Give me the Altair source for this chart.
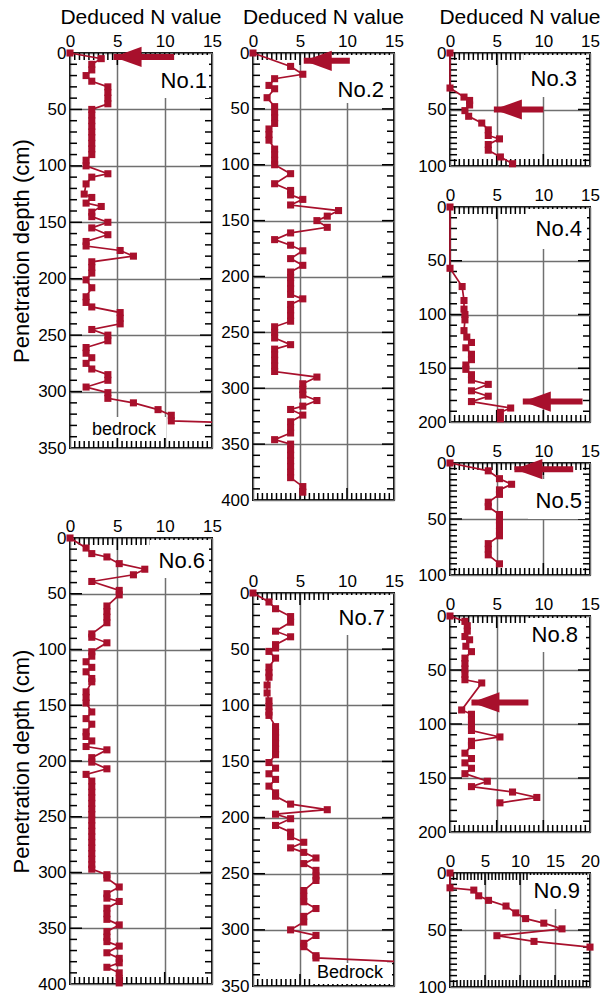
import altair as alt
import pandas as pd

FONT = "Liberation Sans"
RED = "#a8102c"
GRID = "#707070"
HEAD = "M0,0L2,-0.72L2,0.72Z"

# ---------------- data (depth in cm, deduced N value) ----------------
n1_depth = [0, 5, 10, 15, 20, 25, 30, 35, 40, 45,
            50, 55, 60, 65, 70, 75, 80, 85, 90, 95,
            100, 107, 110, 116, 125, 128, 133, 136, 141, 145,
            150, 155, 161, 167, 171, 175, 180, 185, 190, 195,
            201, 208, 216, 221, 225, 230, 235, 240, 245, 250,
            255, 261, 266, 270, 275, 280, 285, 290, 296, 301,
            306, 310, 316, 321, 326]
n1_value = [0, 3.3, 2.3, 2.3, 1.7, 2.3, 4, 4, 4, 4,
            2.3, 2.3, 2.3, 2.3, 2.3, 2.3, 2.3, 2.3, 2.3, 1.7,
            1.7, 4, 2.3, 1.7, 1.5, 2.3, 1.7, 3.3, 2.3, 2.3,
            4, 2.3, 4, 1.7, 1.7, 5.3, 6.7, 2.3, 2.3, 2.3,
            1.7, 2.3, 1.7, 1.7, 2.3, 5.3, 5.3, 5.3, 2.3, 4,
            4, 1.7, 1.7, 2.3, 1.7, 2.3, 4, 4, 1.7, 4,
            4, 6.7, 9.3, 10.7, 10.7]
n1_tail = [15, 327]

n2_depth = [0, 12, 19, 23, 29, 32, 40, 48, 53, 58,
            63, 68, 73, 78, 86, 91, 96, 100, 108, 117,
            123, 127, 131, 136, 141, 146, 150, 156, 161, 167,
            172, 177, 184, 190, 196, 201, 206, 211, 216, 220,
            225, 230, 235, 240, 245, 250, 255, 261, 265, 270,
            275, 280, 285, 290, 296, 301, 306, 311, 316, 319,
            324, 330, 335, 340, 346, 350, 355, 360, 365, 370,
            375, 380, 388, 393]
n2_value = [0, 4, 5.3, 2.3, 1.7, 2.3, 1.5, 2.3, 2.3, 2.3,
            2.3, 1.7, 1.7, 1.7, 2.3, 2.3, 2.3, 2.3, 4, 2.3,
            4, 4, 5.3, 4, 9.1, 7.9, 6.8, 7.9, 4, 2.3,
            4, 5.3, 4, 5.3, 4, 4, 4, 4, 4, 5.3,
            4, 4, 4, 4, 2.3, 2.3, 2.3, 4, 2.3, 2.3,
            2.3, 2.3, 2.3, 6.8, 5.3, 5.3, 5.3, 6.8, 5.3, 4,
            5.3, 4, 4, 4, 2.3, 4, 4, 4, 4, 4,
            4, 4, 5.3, 5.3]

n3_depth = [0, 31, 39, 42, 46, 51, 56, 62, 68, 73, 76, 81, 86, 92, 98]
n3_value = [0, 0, 1.5, 2.1, 2.1, 1.6, 2.0, 3.4, 4.1, 4.1, 5.3, 4.1, 4.1, 5.4, 6.7]

n4_depth = [0, 57, 74, 87, 95, 100, 105, 115, 121, 126, 131, 137, 142, 147,
            151, 156, 161, 165, 171, 176, 181, 187, 191, 197]
n4_value = [0, 0, 1.3, 1.5, 1.5, 1.6, 1.6, 1.5, 1.8, 2.3, 1.7, 2.3, 2.3, 1.7,
            1.7, 2.3, 2.3, 4.1, 2.3, 4.1, 2.3, 6.5, 5.4, 5.4]

n5_depth = [0, 7, 14, 19, 24, 28, 35, 39, 46, 51, 56, 61, 65, 72, 77, 82, 90]
n5_value = [0, 4.1, 5.3, 6.6, 5.3, 5.3, 4.1, 4.1, 5.3, 5.3, 5.3, 5.3, 5.3, 4.1, 4.1, 4.1, 5.3]

n6_depth = [0, 9, 14, 17, 23, 28, 33, 39, 47, 51,
            61, 66, 71, 76, 86, 89, 94, 102, 106, 111,
            116, 120, 126, 129, 138, 143, 148, 156, 162, 167,
            174, 178, 182, 187, 190, 197, 201, 207, 212, 218,
            223, 228, 233, 238, 243, 248, 253, 258, 263, 268,
            273, 278, 283, 288, 293, 297, 302, 305, 313, 319,
            323, 326, 332, 337, 342, 347, 353, 358, 362, 366,
            372, 377, 381, 385, 390, 395, 399]
n6_value = [0, 1.7, 2.3, 3.9, 5.2, 7.9, 6.7, 2.3, 5.2, 5.2,
            3.9, 3.9, 3.9, 3.9, 2.3, 2.3, 3.9, 2.3, 2.3, 1.7,
            2.3, 1.7, 2.3, 2.3, 1.7, 1.7, 1.7, 2.3, 1.7, 2.3,
            1.7, 1.7, 2.3, 1.7, 3.9, 2.3, 2.3, 3.9, 1.7, 2.3,
            2.3, 2.3, 2.3, 2.3, 2.3, 2.3, 2.3, 2.3, 2.3, 2.3,
            2.3, 2.3, 2.3, 2.3, 2.3, 2.3, 3.9, 3.9, 5.2, 3.9,
            3.9, 5.2, 3.9, 3.9, 3.9, 5.2, 3.9, 3.9, 3.9, 5.2,
            3.9, 5.2, 5.2, 3.9, 5.2, 5.2, 5.2]

n7_depth = [0, 8, 14, 21, 26, 34, 39, 46, 49, 52,
            58, 66, 71, 75, 82, 89, 96, 101, 106, 109,
            119, 124, 129, 134, 139, 144, 151, 156, 161, 166,
            172, 178, 181, 188, 193, 197, 201, 207, 213, 217,
            222, 227, 231, 236, 241, 247, 252, 256, 265, 270,
            275, 281, 288, 293, 300, 305, 312, 315, 323, 325]
n7_value = [0, 1.7, 2.4, 4, 4, 2.4, 4, 2.4, 2.4, 1.7,
            2.4, 1.7, 1.7, 1.7, 1.5, 1.5, 1.7, 1.7, 1.7, 1.7,
            2.4, 2.4, 2.4, 2.4, 2.4, 2.4, 1.7, 2.4, 1.7, 2.4,
            1.7, 2.4, 2.4, 4, 7.9, 2.4, 4, 2.4, 4, 4,
            5.4, 4, 5.4, 6.7, 5.4, 6.7, 6.7, 6.7, 5.4, 5.4,
            5.4, 6.7, 5.4, 5.4, 4, 6.7, 5.4, 5.4, 6.7, 6.7]
n7_tail = [15, 328]

n8_depth = [0, 5, 9, 14, 19, 22, 28, 33, 39, 44,
            49, 54, 59, 62, 87, 91, 96, 101, 106, 112,
            116, 120, 127, 132, 136, 141, 146, 153, 158, 163,
            168, 173]
n8_value = [0, 1.6, 1.85, 1.85, 1.6, 2.1, 1.7, 2.3, 1.6, 1.6,
            1.6, 1.6, 1.6, 3.4, 1.25, 2.3, 2.3, 2.3, 2.3, 5.35,
            2.3, 2.3, 1.6, 2.3, 1.6, 2.3, 1.6, 4.0, 2.3, 6.7,
            9.3, 5.35]

n9_depth = [0, 13, 15, 20, 24, 29, 35, 40, 44, 49, 55, 60, 65]
n9_value = [0, 0, 3.4, 4.1, 5.5, 8, 9.4, 10.8, 13.4, 16, 6.7, 12, 20]

# arrows: [tip N, tail N, depth]
arrow1 = [4.6, 11.0, 3.5]
arrow2 = [5.4, 10.3, 7.0]
arrow3 = [4.7, 10.0, 50]
arrow4 = [7.8, 14.2, 181]
arrow5 = [6.9, 13.2, 5.5]
arrow8 = [2.3, 8.4, 80]

TITLE_TEXT = "Deduced N value"
YTITLE_TEXT = "Penetration depth (cm)"

ONE = pd.DataFrame({"k": [0]})


def panel(depth, value, xmax, ymax, w, h, label, box, lab_xy, ystep,
          tail=None, arrow=None, title=False, ytitle=False, bedrock=None, spacer=0):
    xs = alt.Scale(domain=[0, xmax], nice=False, zero=False)
    ys = alt.Scale(domain=[0, ymax], reverse=True, nice=False, zero=False)
    df = pd.DataFrame({"d": depth, "n": value})
    df["i"] = range(len(df))
    ldf = df
    if tail:
        ldf = pd.concat([df, pd.DataFrame({"d": [tail[1]], "n": [tail[0]], "i": [len(df)]})],
                        ignore_index=True)

    xaxis = alt.Axis(orient="top", values=list(range(0, xmax + 1, 5)), grid=True,
                     gridColor=GRID, gridWidth=1.5, gridOpacity=1, ticks=False, domain=False,
                     labelFont=FONT, labelFontSize=17, labelColor="black", labelPadding=3,
                     labelOverlap=False, labelFlush=False, title=None)
    yargs = dict(orient="left", values=list(range(0, ymax + 1, 50)), grid=True,
                 gridColor=GRID, gridWidth=1.5, gridOpacity=1, ticks=False, domain=False,
                 labelFont=FONT, labelFontSize=17, labelColor="black", labelPadding=4,
                 labelOverlap=False, labelFlush=False)
    if ytitle:
        yargs.update(title=YTITLE_TEXT, titleFont=FONT, titleFontSize=22,
                     titleFontWeight="normal", titleColor="black", titlePadding=4)
    else:
        yargs.update(title=None)
    yaxis = alt.Axis(**yargs)

    def X(f):
        return alt.X(f, scale=xs, axis=xaxis)

    def Y(f):
        return alt.Y(f, scale=ys, axis=yaxis)

    layers = []

    def hrule(vals, x1, x2):
        return alt.Chart(pd.DataFrame({"d": vals})).mark_rule(color="black", strokeWidth=1.5).encode(
            y=Y("d:Q"), x=alt.value(x1), x2=alt.value(x2))

    def vrule(vals, y1, y2):
        return alt.Chart(pd.DataFrame({"n": vals})).mark_rule(color="black", strokeWidth=1.5).encode(
            x=X("n:Q"), y=alt.value(y1), y2=alt.value(y2))

    # invisible layer carrying both axes first
    layers.append(alt.Chart(df).mark_line(strokeOpacity=0).encode(x=X("n:Q"), y=Y("d:Q"), order="i:Q"))

    ymin = [v for v in range(ystep, ymax, ystep) if v % 50]
    ymaj = list(range(50, ymax, 50))
    xmin = [k / 2 for k in range(1, 2 * xmax) if k % 10]
    xmaj = list(range(5, xmax, 5))
    layers += [hrule(ymin, 0, 7), hrule(ymin, w - 7, w), hrule(ymaj, 0, 12), hrule(ymaj, w - 12, w),
               vrule(xmin, 0, 7), vrule(xmin, h - 7, h), vrule(xmaj, 0, 12), vrule(xmaj, h - 12, h)]

    # white label boxes
    layers.append(alt.Chart(ONE).mark_rect(color="white").encode(
        x=alt.value(box[0]), x2=alt.value(box[2]), y=alt.value(box[1]), y2=alt.value(box[3])))
    if bedrock:
        bb = bedrock["box"]
        layers.append(alt.Chart(ONE).mark_rect(color="white").encode(
            x=alt.value(bb[0]), x2=alt.value(bb[2]), y=alt.value(bb[1]), y2=alt.value(bb[3])))

    layers.append(alt.Chart(ldf).mark_line(color=RED, strokeWidth=1.7).encode(
        x=X("n:Q"), y=Y("d:Q"), order="i:Q"))
    layers.append(alt.Chart(df).mark_square(size=50, color=RED, opacity=1).encode(
        x=X("n:Q"), y=Y("d:Q")))

    if arrow:
        adf = pd.DataFrame({"tip": [arrow[0]], "tail": [arrow[1]], "d": [arrow[2]]})
        layers.append(alt.Chart(adf).mark_rule(color=RED, strokeWidth=6).encode(
            x=X("tip:Q"), x2="tail:Q", y=Y("d:Q")))
        layers.append(alt.Chart(adf).mark_point(shape=HEAD, size=784, filled=True, color=RED,
                                                opacity=1, strokeWidth=0).encode(
            x=X("tip:Q"), y=Y("d:Q")))

    layers.append(alt.Chart(ONE).mark_text(text=label, font=FONT, fontSize=22, align="right",
                                           baseline="alphabetic", color="black").encode(
        x=alt.value(lab_xy[0]), y=alt.value(lab_xy[1])))
    if bedrock:
        layers.append(alt.Chart(ONE).mark_text(text=bedrock["text"], font=FONT, fontSize=18,
                                               align="left", baseline="alphabetic",
                                               color="black").encode(
            x=alt.value(bedrock["xy"][0]), y=alt.value(bedrock["xy"][1])))
    if spacer:
        layers.append(alt.Chart(ONE).mark_rule(color="white", strokeOpacity=0).encode(
            x=alt.value(w), x2=alt.value(w + spacer), y=alt.value(0)))

    props = dict(width=w, height=h)
    if title:
        props["title"] = alt.TitleParams(TITLE_TEXT, font=FONT, fontSize=21, fontWeight="normal",
                                         color="black", offset=4, anchor="middle", frame="group")
    return alt.layer(*layers).properties(**props)


W1, W2, W3 = 142, 141, 140

p1 = panel(n1_depth, n1_value, 15, 350, W1, 395, "No.1", (84, 2, 139, 45), (137, 35), 10,
           tail=n1_tail, arrow=arrow1, title=True, ytitle=True,
           bedrock={"text": "bedrock", "box": (20, 364, 96, 385), "xy": (22, 382)})
p6 = panel(n6_depth, n6_value, 15, 400, W1, 446, "No.6", (80, 2, 139, 40), (135, 30), 10,
           ytitle=True)
p2 = panel(n2_depth, n2_value, 15, 400, W2, 447, "No.2", (78, 2, 137, 50), (131, 44), 10,
           arrow=arrow2, title=True, spacer=25)
p7 = panel(n7_depth, n7_value, 15, 350, W2, 393, "No.7", (78, 2, 137, 42), (132, 32), 10,
           tail=n7_tail,
           bedrock={"text": "Bedrock", "box": (58, 370, 139, 391), "xy": (64, 385)})
p3 = panel(n3_depth, n3_value, 15, 100, W3, 113, "No.3", (74, 2, 136, 44), (127, 33), 5,
           arrow=arrow3, title=True)
p4 = panel(n4_depth, n4_value, 15, 200, W3, 215, "No.4", (78, 2, 137, 42), (132, 29), 10,
           arrow=arrow4)
p5 = panel(n5_depth, n5_value, 15, 100, W3, 112, "No.5", (78, 16, 135, 56), (132, 45), 5,
           arrow=arrow5)
p8 = panel(n8_depth, n8_value, 15, 200, W3, 216, "No.8", (76, 2, 136, 36), (128, 26), 10,
           arrow=arrow8)
p9 = panel(n9_depth, n9_value, 20, 100, W3, 114, "No.9", (78, 2, 137, 36), (130, 25), 5)

col1 = alt.vconcat(p1, p6, spacing=90, bounds="flush")
col2 = alt.vconcat(p2, p7, spacing=93, bounds="flush")
col3 = alt.vconcat(p3, p4, p5, p8, p9, spacing=41, bounds="flush")

chart = alt.hconcat(col1, col2, col3, spacing=-4).properties(
    padding={"left": 9, "top": 6, "right": 0, "bottom": 0},
    background="white",
).configure(font=FONT).configure_view(stroke="black", strokeWidth=2)

chart.save("out.html", embed_options={"renderer": "svg", "actions": False})
